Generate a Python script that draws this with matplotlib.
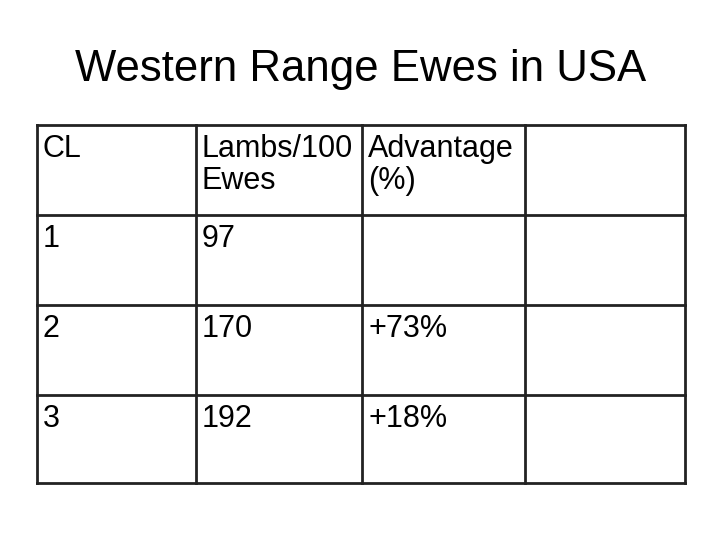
import matplotlib
matplotlib.use("Agg")
import matplotlib.pyplot as plt

title = "Western Range Ewes in USA"
header = ["CL", "Lambs/100\nEwes", "Advantage\n(%)", ""]
cl = ["1", "2", "3"]
lambs = ["97", "170", "192"]
advantage = ["", "+73%", "+18%"]

col_x = [37, 196, 362, 525, 685]
row_y = [125, 215, 305, 395, 483]

fig = plt.figure(figsize=(7.2, 5.4), dpi=100)
ax = fig.add_axes([0, 0, 1, 1])
ax.set_xlim(0, 720)
ax.set_ylim(540, 0)
ax.axis("off")

ax.text(361, 70, title, ha="center", va="center", fontsize=31.5,
        family="Liberation Sans")

# grid lines
for x in col_x:
    ax.plot([x, x], [row_y[0], row_y[-1]], color="#222222", lw=2)
for y in row_y:
    ax.plot([col_x[0], col_x[-1]], [y, y], color="#222222", lw=2)

rows = [header] + [[c, l, a, ""] for c, l, a in zip(cl, lambs, advantage)]
for r, row in enumerate(rows):
    for c, txt in enumerate(row):
        ax.text(col_x[c] + 6, row_y[r] + 9, txt, ha="left", va="top",
                fontsize=22, family="Liberation Sans", linespacing=1.1)

fig.savefig("out.png", dpi=100)
